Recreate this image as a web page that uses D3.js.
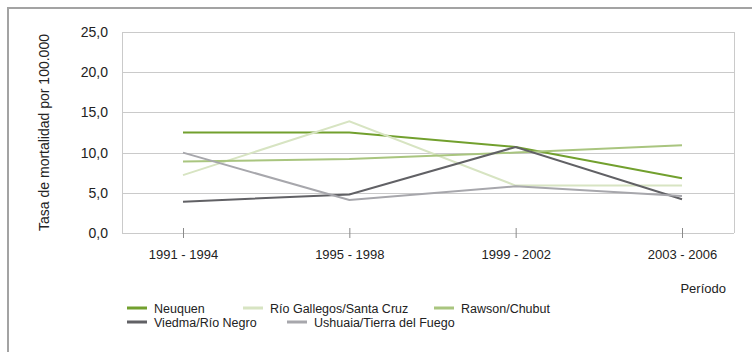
<!DOCTYPE html>
<html>
<head>
<meta charset="utf-8">
<script src="https://cdn.jsdelivr.net/npm/d3@7"></script>
<style>
  body { margin: 0; background: #fff; }
  text { font-family: "Liberation Sans", Arial, sans-serif; fill: #222; }
</style>
</head>
<body>
<div id="chart"></div>
<script>
var w = 752;
var h = 352;

var periods = ["1991 - 1994", "1995 - 1998", "1999 - 2002", "2003 - 2006"];
var yTicks = [0, 5, 10, 15, 20, 25];

var neuquen = [12.5, 12.5, 10.7, 6.8];
var rioGallegos = [7.2, 13.9, 5.9, 5.9];
var rawson = [8.9, 9.2, 10.0, 10.9];
var viedma = [3.9, 4.8, 10.7, 4.2];
var ushuaia = [10.0, 4.1, 5.8, 4.6];

var seriesNames = ["Neuquen", "Río Gallegos/Santa Cruz", "Rawson/Chubut", "Viedma/Río Negro", "Ushuaia/Tierra del Fuego"];
var seriesColors = ["#72a02e", "#d7e4c2", "#a9c57f", "#616165", "#a7a7ac"];
var seriesValues = [neuquen, rioGallegos, rawson, viedma, ushuaia];

// plot box
var plotLeft = 122, plotRight = 734, plotTop = 32, plotBottom = 233;

var xScale = d3.scalePoint().domain(periods).range([183, 682]);
var yScale = d3.scaleLinear().domain([0, 25]).range([plotBottom, plotTop]);

var svg = d3.select("#chart").append("svg").attr("width", w).attr("height", h);

// outer frame
svg.append("rect")
  .attr("x", 8).attr("y", 8)
  .attr("width", w + 20).attr("height", h + 20)
  .attr("fill", "none")
  .attr("stroke", "#a3a3a3")
  .attr("stroke-width", 2);

// gridlines
svg.append("g")
  .selectAll("line")
  .data(yTicks)
  .enter()
  .append("line")
  .attr("x1", plotLeft)
  .attr("x2", plotRight)
  .attr("y1", (d) => Math.round(yScale(d)) + 0.5)
  .attr("y2", (d) => Math.round(yScale(d)) + 0.5)
  .attr("stroke", "#cacaca");

svg.append("line")
  .attr("x1", plotRight + 0.5).attr("x2", plotRight + 0.5)
  .attr("y1", plotTop).attr("y2", plotBottom)
  .attr("stroke", "#cacaca");
svg.append("line")
  .attr("x1", plotLeft + 0.5).attr("x2", plotLeft + 0.5)
  .attr("y1", plotTop).attr("y2", plotBottom)
  .attr("stroke", "#cacaca");

// y axis labels
var yAxis = d3.axisLeft(yScale)
  .tickValues(yTicks)
  .tickSize(0)
  .tickPadding(14)
  .tickFormat((d) => d3.format(".1f")(d).replace(".", ","));

svg.append("g")
  .attr("transform", "translate(" + plotLeft + ",0)")
  .call(yAxis)
  .call((g) => g.select(".domain").remove())
  .call((g) => g.selectAll("text").attr("font-size", "14px").attr("font-family", null).attr("fill", "#222"));

// x axis
var xAxis = d3.axisBottom(xScale).tickSize(10).tickPadding(12);

svg.append("g")
  .attr("transform", "translate(0," + (plotBottom - 5) + ")")
  .call(xAxis)
  .call((g) => g.select(".domain").remove())
  .call((g) => g.selectAll("line").attr("stroke", "#8a8a8a"))
  .call((g) => g.selectAll("text").attr("font-size", "13px").attr("font-family", null).attr("fill", "#222"));

// lines
var line = d3.line()
  .x((d, i) => xScale(periods[i]))
  .y((d) => yScale(d));

svg.append("g")
  .selectAll("path")
  .data(seriesValues)
  .enter()
  .append("path")
  .attr("d", line)
  .attr("fill", "none")
  .attr("stroke", (d, i) => seriesColors[i])
  .attr("stroke-width", 2);

// axis titles
svg.append("text")
  .attr("transform", "translate(49," + ((plotTop + plotBottom) / 2) + ") rotate(-90)")
  .attr("text-anchor", "middle")
  .attr("font-size", "14px")
  .text("Tasa de mortalidad por 100.000");

svg.append("text")
  .attr("x", 726)
  .attr("y", 293)
  .attr("text-anchor", "end")
  .attr("font-size", "13px")
  .text("Período");

// legend
var legendPos = [[127, 308], [243, 308], [434, 308], [127, 322], [287, 322]];

var legend = svg.append("g")
  .selectAll("g")
  .data(seriesNames)
  .enter()
  .append("g")
  .attr("transform", (d, i) => "translate(" + legendPos[i][0] + "," + legendPos[i][1] + ")");

legend.append("rect")
  .attr("x", 0).attr("y", -1.5)
  .attr("width", 20).attr("height", 3)
  .attr("fill", (d, i) => seriesColors[i]);

legend.append("text")
  .attr("x", 27)
  .attr("y", 4.5)
  .attr("font-size", "12.5px")
  .text((d) => d);
</script>
</body>
</html>
